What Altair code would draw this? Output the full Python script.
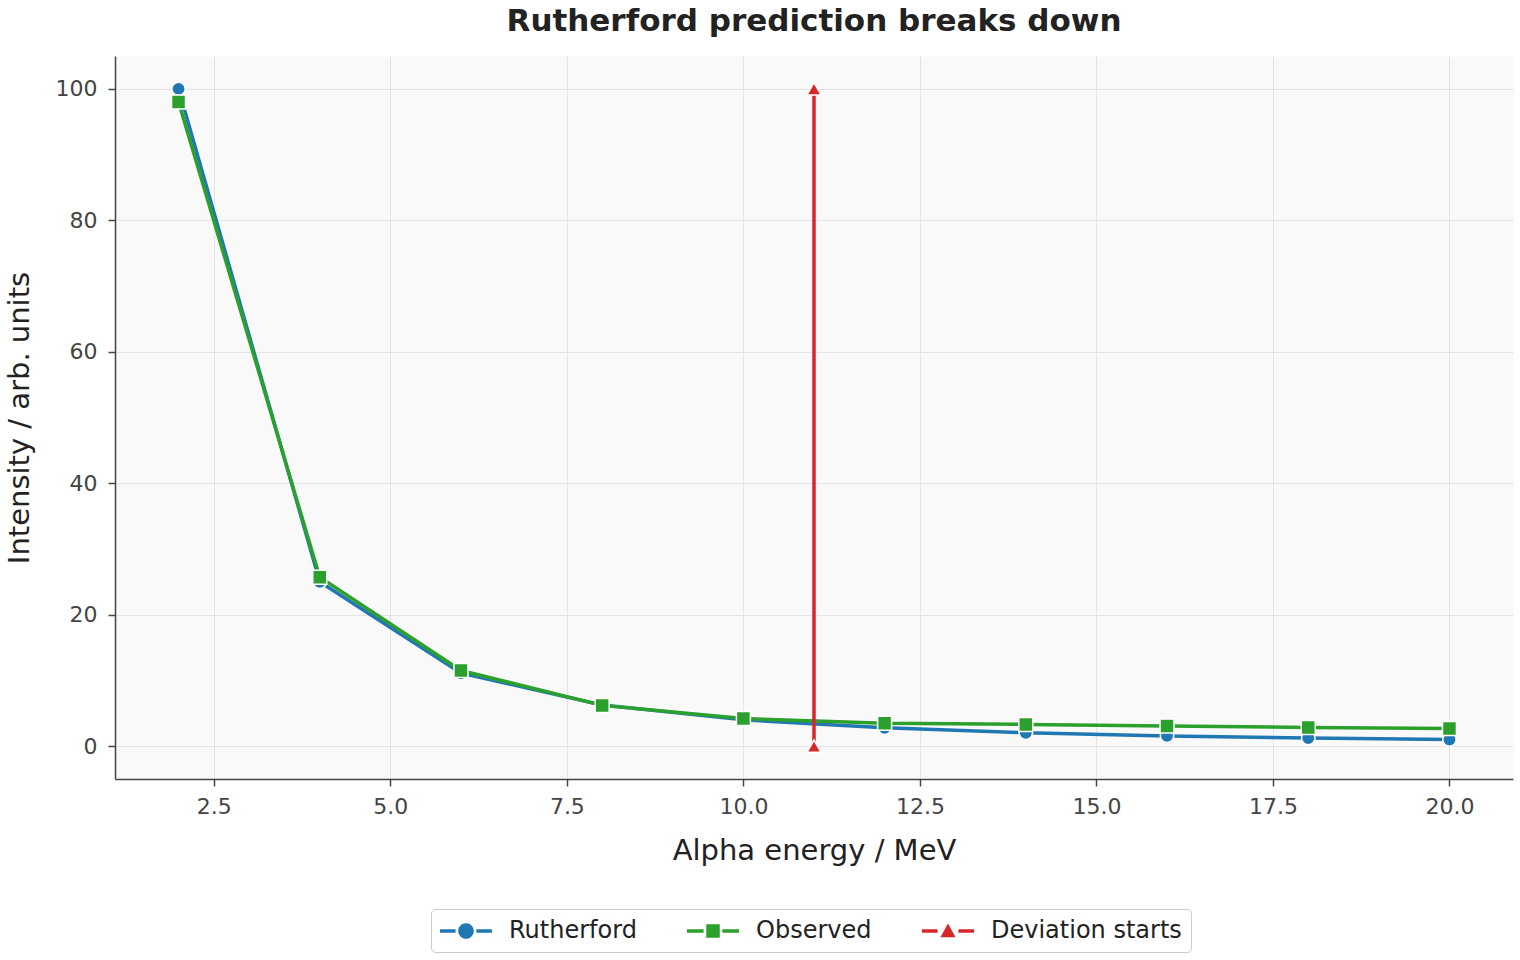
import altair as alt
import pandas as pd

# ---- data ----
energy = [2, 4, 6, 8, 10, 12, 14, 16, 18, 20]
rutherford = [100.0, 25.0, 11.1, 6.25, 4.0, 2.78, 2.04, 1.56, 1.23, 1.0]
observed = [98.0, 25.7, 11.5, 6.2, 4.2, 3.5, 3.3, 3.05, 2.85, 2.7]
deviation_x = [11, 11]
deviation_y = [0, 100]

series_names = ["Rutherford", "Observed", "Deviation starts"]
series_colors = ["#1f77b4", "#2ca02c", "#d62728"]
x_ticks = [2.5, 5.0, 7.5, 10.0, 12.5, 15.0, 17.5, 20.0]
y_ticks = [0, 20, 40, 60, 80, 100]

rows = []
for e, v in zip(energy, rutherford):
    rows.append({"energy": e, "intensity": v, "series": "Rutherford"})
for e, v in zip(energy, observed):
    rows.append({"energy": e, "intensity": v, "series": "Observed"})
for e, v in zip(deviation_x, deviation_y):
    rows.append({"energy": e, "intensity": v, "series": "Deviation starts"})
df = pd.DataFrame(rows)

FONT = "DejaVu Sans"

color_scale = alt.Scale(domain=series_names, range=series_colors)

X = alt.X(
    "energy:Q",
    scale=alt.Scale(domain=[1.1, 20.9], nice=False, zero=False),
    axis=alt.Axis(values=x_ticks, format=".1f", title="Alpha energy / MeV",
                  labelPadding=10, titlePadding=19),
)
Y = alt.Y(
    "intensity:Q",
    scale=alt.Scale(domain=[-5, 105], nice=False, zero=False),
    axis=alt.Axis(values=y_ticks, format="d", title="Intensity / arb. units",
                  labelPadding=11, titlePadding=21),
)


def series_layers(idx, shape, size):
    name = series_names[idx]
    col = series_colors[idx]
    base = alt.Chart(df).transform_filter(alt.datum.series == name)
    line = base.mark_line(strokeWidth=3.5, color=col).encode(x=X, y=Y)
    pts = base.mark_point(
        filled=True, shape=shape, size=size, fill=col, stroke="white",
        strokeWidth=1.5, opacity=1
    ).encode(x=X, y=Y)
    return [line, pts]


# legend symbols: line + marker, drawn in a 13px unit box
legend_paths = [
    "M-2,-0.13H-0.8V0.13H-2Z M0.8,-0.13H2V0.13H0.8Z "
    "M0,-0.6A0.6,0.6 0 1 1 0,0.6A0.6,0.6 0 1 1 0,-0.6Z",
    "M-2,-0.13H-0.72V0.13H-2Z M0.72,-0.13H2V0.13H0.72Z "
    "M-0.52,-0.52H0.52V0.52H-0.52Z",
    "M-2,-0.13H-0.8V0.13H-2Z M0.8,-0.13H2V0.13H0.8Z "
    "M0,-0.58L0.58,0.48H-0.58Z",
]

legend_def = alt.Legend(
    orient="none", legendX=316, legendY=853, direction="horizontal",
    title=None, symbolSize=676, symbolStrokeWidth=0, symbolOffset=13,
    labelOffset=30, columnPadding=50, padding=9, labelLimit=400,
    strokeColor="#cccccc", fillColor="white", cornerRadius=4,
    labelFontSize=24, labelFont=FONT, labelColor="#222222",
)

legend_layer = alt.Chart(df).transform_filter("false").mark_point(
    filled=True, opacity=1
).encode(
    x=X, y=Y,
    color=alt.Color("series:N", scale=color_scale, legend=legend_def),
    shape=alt.Shape("series:N",
                    scale=alt.Scale(domain=series_names, range=legend_paths),
                    legend=legend_def),
)

layers = (series_layers(0, "circle", 180)
          + series_layers(1, "square", 196)
          + series_layers(2, "triangle-up", 200)
          + [legend_layer])

chart = alt.layer(*layers).properties(
    width=1398, height=723,
    autosize=alt.AutoSizeParams(type="none"),
    padding={"left": 115, "top": 56, "right": 7, "bottom": 181},
    title=alt.TitleParams(
        "Rutherford prediction breaks down", fontSize=31, fontWeight="bold",
        font=FONT, color="#222222", anchor="middle", frame="group", offset=18,
    ),
).configure(
    background="white"
).configure_view(
    fill="#f9f9f9", stroke="transparent"
).configure_axis(
    labelFont=FONT, titleFont=FONT, labelFontSize=22, titleFontSize=29,
    titleFontWeight="normal", labelColor="#444444", titleColor="#222222",
    domainColor="#444444", domainWidth=1.5, tickColor="#444444",
    tickWidth=1.5, tickSize=7, gridColor="#e4e4e8", gridWidth=1,
)

chart.save("out.html", embed_options={"renderer": "svg", "actions": False})
